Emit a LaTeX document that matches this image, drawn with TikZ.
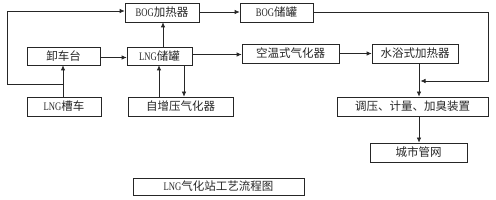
\documentclass[tikz,border=0pt]{standalone}
\usepackage{fontspec}
\setmainfont{Liberation Serif}
\newfontfamily\cjk{Noto Sans CJK SC}
\newfontfamily\latn[FakeStretch=0.75]{Liberation Serif}
\usetikzlibrary{arrows.meta}
\begin{document}
\begin{tikzpicture}[x=1pt,y=-1pt,
  box/.style={draw=black!85,line width=0.7pt,rectangle,inner sep=0pt,
    font=\cjk\fontsize{11.5}{12}\selectfont,text=black!85},
  arr/.style={draw=black!85,line width=0.7pt,-{Latex[length=5pt,width=4.5pt]}},
  ln/.style={draw=black!85,line width=0.7pt}]
\useasboundingbox (0,0) rectangle (496,200);
\node[box,minimum width=74pt,minimum height=19pt] (bogh) at (162,12.5) {{\latn BOG}加热器};
\node[box,minimum width=73pt,minimum height=19pt] (bogs) at (276.5,12.5) {{\latn BOG}储罐};
\node[box,minimum width=73pt,minimum height=18pt] (xie) at (63.5,56) {卸车台};
\node[box,minimum width=65pt,minimum height=18pt] (lngt) at (159.5,56) {{\latn LNG}储罐};
\node[box,minimum width=97pt,minimum height=19pt] (kong) at (290.5,53.5) {空温式气化器};
\node[box,minimum width=86pt,minimum height=19pt] (shui) at (415,53.5) {水浴式加热器};
\node[box,minimum width=74pt,minimum height=19pt] (car) at (64,106.5) {{\latn LNG}槽车};
\node[box,minimum width=105pt,minimum height=19pt] (zi) at (180.5,106.5) {自增压气化器};
\node[box,minimum width=151pt,minimum height=19pt] (tiao) at (412.5,106.5) {调压、计量、加臭装置};
\node[box,minimum width=97pt,minimum height=19pt] (city) at (418.5,152.5) {城市管网};
\node[box,minimum width=171pt,minimum height=17pt] (title) at (218.5,186.5) {{\latn LNG}气化站工艺流程图};
% LNG truck to unloading platform and to BOG heater
\coordinate (j1) at (63,84);
\coordinate (c1) at (7,84);
\coordinate (c2) at (7,11);
\draw[arr] (car.north -| j1) -- (xie.south -| j1);
\draw[arr] (j1) -- (c1) -- (c2) -- (c2 -| bogh.west);
\draw[arr] ([yshift=-1.5pt]xie.east) -- ([yshift=-1.5pt]xie.east -| lngt.west);
\coordinate (u1) at (163,0);
\draw[arr] (lngt.north -| u1) -- (bogh.south -| u1);
\coordinate (r1) at (0,54.5);
\draw[arr] (lngt.east |- r1) -- (kong.west |- r1);
\draw[arr] ([yshift=0.5pt]bogh.east) -- ([yshift=0.5pt]bogh.east -| bogs.west);
\draw[arr] (kong.east) -- (shui.west);
\coordinate (za) at (159,0);
\coordinate (zb) at (184,0);
\draw[arr] (zi.north -| za) -- (lngt.south -| za);
\draw[arr] (lngt.south -| zb) -- (zi.north -| zb);
\coordinate (v1) at (419,0);
\draw[arr] (shui.south -| v1) -- (tiao.north -| v1);
\draw[arr] (tiao.south -| v1) -- (city.north -| v1);
\coordinate (b1) at (488,12);
\coordinate (b2) at (488,81);
\draw[arr] (bogs.east |- b1) -- (b1) -- (b2) -- ([xshift=1.5pt]b2 -| v1);
\end{tikzpicture}
\end{document}
